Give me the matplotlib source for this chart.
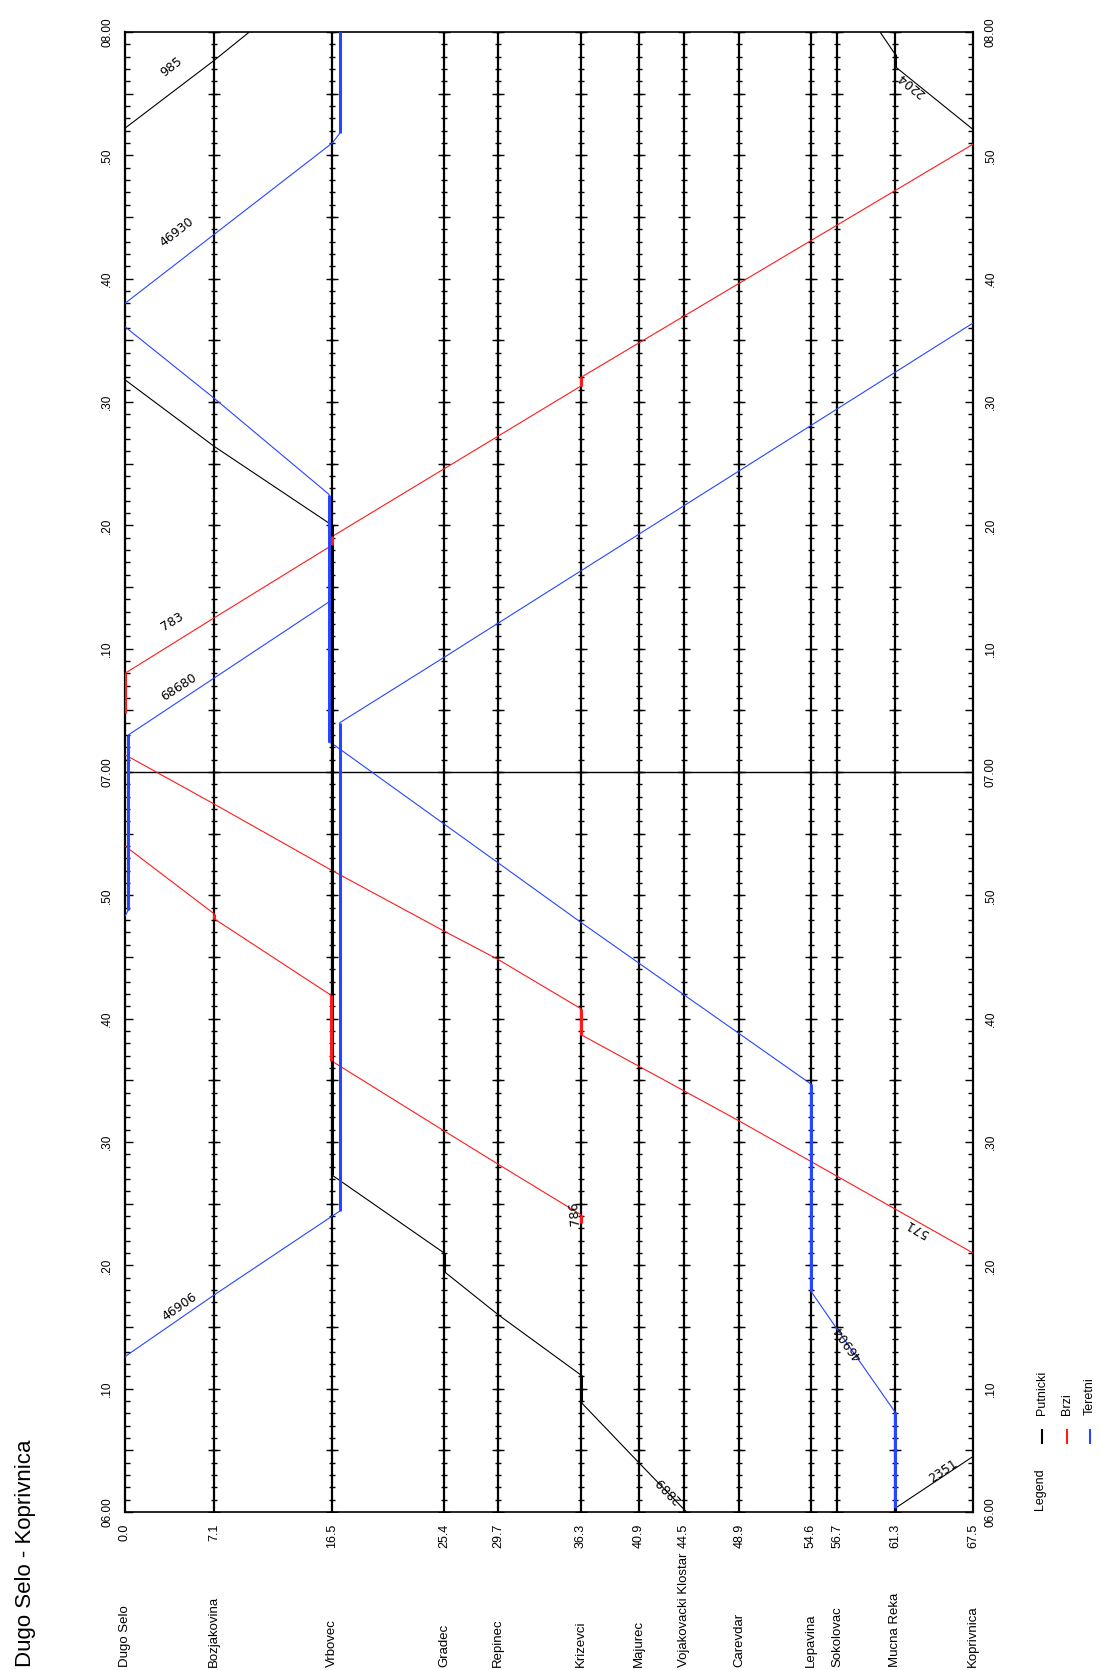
import matplotlib
matplotlib.use('Agg')
import matplotlib.pyplot as plt
from matplotlib.lines import Line2D
from matplotlib.transforms import blended_transform_factory


# stations along the line (km from Dugo Selo)
stations = ['Dugo Selo', 'Bozjakovina', 'Vrbovec', 'Gradec', 'Repinec', 'Krizevci', 'Majurec',
            'Vojakovacki Klostar', 'Carevdar', 'Lepavina', 'Sokolovac', 'Mucna Reka', 'Koprivnica']
station_km = [0.0, 7.1, 16.5, 25.4, 29.7, 36.3, 40.9, 44.5, 48.9, 54.6, 56.7, 61.3, 67.5]
km_labels = ['0.0', '7.1', '16.5', '25.4', '29.7', '36.3', '40.9', '44.5', '48.9', '54.6', '56.7', '61.3', '67.5']

# time axis, minutes after 06:00
time_ticks = [0, 10, 20, 30, 40, 50, 60, 70, 80, 90, 100, 110, 120]
time_labels = ['06.00', '.10', '.20', '.30', '.40', '.50', '07.00', '.10', '.20', '.30', '.40', '.50', '08.00']

# Putnicki (black)
p2889_km = [44.7, 40.9, 36.3, 36.3, 29.7, 25.4, 25.4, 16.5, 16.5, 7.1, 0.0]
p2889_min = [0.0, 4.0, 8.9, 11.1, 16.0, 19.5, 21.0, 27.3, 80.0, 86.4, 91.8]
p985_km = [0.0, 7.1, 9.9]
p985_min = [112.2, 117.7, 120.0]
p2351_km = [61.3, 61.3, 67.5]
p2351_min = [0.0, 0.3, 4.5]
p2204_km = [67.5, 61.3, 61.3, 60.1]
p2204_min = [112.1, 117.2, 118.2, 120.0]

# Brzi (red)
b783_km = [0.0, 0.0, 7.1, 16.5, 16.5, 36.3, 36.3, 67.5]
b783_min = [64.8, 68.0, 72.5, 78.4, 79.1, 91.3, 92.0, 110.9]
b571_km = [67.5, 48.9, 36.3, 36.3, 29.7, 25.4, 16.5, 7.1, 0.0]
b571_min = [21.0, 31.7, 38.7, 40.8, 44.8, 47.1, 52.0, 57.4, 61.4]
b786_km = [36.3, 36.3, 29.7, 25.4, 16.4, 16.4, 7.1, 7.1, 0.0]
b786_min = [23.4, 24.1, 28.2, 30.9, 36.6, 41.9, 48.1, 48.5, 54.0]

# Teretni (blue)
t46906_km = [0.0, 7.1, 16.5, 17.1, 17.1, 25.4, 67.5]
t46906_min = [12.6, 17.6, 24.0, 24.4, 64.0, 69.3, 96.4]
t46904_km = [61.3, 61.3, 56.7, 54.6, 54.6, 36.3, 16.5, 16.25, 16.25, 7.1, 0.0]
t46904_min = [0.0, 8.1, 14.8, 17.9, 34.7, 47.8, 62.3, 62.4, 82.5, 90.3, 96.1]
t68680_km = [0.0, 0.26, 0.26, 16.25]
t68680_min = [48.3, 48.8, 63.0, 73.8]
t46930_km = [0.0, 16.5, 17.1, 17.1]
t46930_min = [98.0, 111.0, 111.8, 120.0]

NARROW = ['Liberation Sans Narrow', 'Liberation Sans', 'DejaVu Sans']
BLACK, RED, BLUE = '#000000', '#ff1a1a', '#2646ff'


def draw_train(ax, km, mins, color, z):
    ax.plot(km, mins, color=color, lw=0.8, zorder=4, solid_capstyle='butt')
    # standing at a station -> thicker segment
    for i in range(len(km) - 1):
        if km[i] == km[i + 1]:
            ax.plot(km[i:i + 2], mins[i:i + 2], color=color, lw=2.2, zorder=z, solid_capstyle='butt')


def main():
    fig = plt.figure(figsize=(11, 16.7), dpi=100)
    ax = fig.add_axes([125 / 1100, 158 / 1670, 848 / 1100, 1480 / 1670])
    ax.set_xlim(0, 67.5)
    ax.set_ylim(0, 120)

    minutes = list(range(0, 121))
    five = list(range(0, 121, 5))

    # station lines with minute marks
    for km in station_km[1:-1]:
        ax.axvline(km, color='black', lw=1.6, zorder=2)
        ax.plot([km] * len(minutes), minutes, ls='none', marker='_', ms=4.5, mew=1.0, color='black', zorder=2)
        ax.plot([km] * len(five), five, ls='none', marker='_', ms=8.0, mew=1.0, color='black', zorder=2)

    ax.axhline(60, color='black', lw=1.0, zorder=3)

    # trains
    draw_train(ax, t46906_km, t46906_min, BLUE, 5)
    draw_train(ax, t46904_km, t46904_min, BLUE, 5)
    draw_train(ax, t68680_km, t68680_min, BLUE, 5)
    draw_train(ax, t46930_km, t46930_min, BLUE, 5)
    draw_train(ax, b783_km, b783_min, RED, 6)
    draw_train(ax, b571_km, b571_min, RED, 6)
    draw_train(ax, b786_km, b786_min, RED, 6)
    draw_train(ax, p2889_km, p2889_min, BLACK, 5.5)
    draw_train(ax, p985_km, p985_min, BLACK, 5.5)
    draw_train(ax, p2351_km, p2351_min, BLACK, 5.5)
    draw_train(ax, p2204_km, p2204_min, BLACK, 5.5)

    # train numbers (km, minute, rotation)
    train_labels = [
        ('46906', 4.38, 16.6, 35),
        ('783', 3.8, 72.2, 32),
        ('68680', 4.32, 66.9, 33),
        ('46930', 4.12, 103.8, 38),
        ('985', 3.72, 117.2, 38),
        ('2351', 65.1, 3.3, 34),
        ('2889', 43.3, 1.8, 134),
        ('786', 35.8, 24.2, 95),
        ('571', 63.0, 23.0, 150),
        ('46904', 57.6, 13.7, 125),
        ('2204', 62.6, 115.7, 141),
    ]
    for txt, km, mn, rot in train_labels:
        ax.text(km, mn, txt, rotation=rot, rotation_mode='anchor', ha='center', va='center',
                fontsize=9, family='DejaVu Sans', zorder=7)

    # axes frame
    for side in ['left', 'right']:
        ax.spines[side].set_linewidth(1.6)
    for side in ['top', 'bottom']:
        ax.spines[side].set_linewidth(1.2)

    ax.set_xticks([])
    ax.set_yticks(five)
    ax.set_yticklabels([time_labels[time_ticks.index(m)] if m in time_ticks else '' for m in five])
    ax.set_yticks(minutes, minor=True)
    ax.tick_params(axis='y', which='both', direction='in', left=True, right=True,
                   labelleft=True, labelright=True, width=1.0, pad=8.6, labelsize=8.5)
    ax.tick_params(axis='y', which='major', length=6)
    ax.tick_params(axis='y', which='minor', length=3.8)
    for t in ax.yaxis.get_major_ticks():
        for lbl in (t.label1, t.label2):
            lbl.set_rotation(90)
            lbl.set_va('center')
            lbl.set_family(NARROW)

    # km and station names under the chart
    km_trans = ax.get_xaxis_transform()
    name_trans = blended_transform_factory(ax.transData, fig.transFigure)
    for km, kml, name in zip(station_km, km_labels, stations):
        ax.text(km, -12 / 1480, kml, transform=km_trans, rotation=90, ha='center', va='top',
                fontsize=9, family=NARROW, clip_on=False)
        ax.text(km, 3 / 1670, name, transform=name_trans, rotation=90, ha='center', va='bottom',
                fontsize=9.5, family=NARROW, clip_on=False)

    fig.text(26 / 1100, 3 / 1670, 'Dugo Selo - Koprivnica', rotation=90, ha='center', va='bottom',
             fontsize=16, family=['Liberation Sans', 'DejaVu Sans'])

    # legend
    fig.text(1040 / 1100, 160 / 1670, 'Legend', rotation=90, ha='center', va='bottom',
             fontsize=9, family=NARROW)
    for x, col, name in [(1042, BLACK, 'Putnicki'), (1067, RED, 'Brzi'), (1090, BLUE, 'Teretni')]:
        fig.add_artist(Line2D([x / 1100, x / 1100], [227 / 1670, 240 / 1670], color=col, lw=1.5,
                              transform=fig.transFigure))
        fig.text(x / 1100, 255 / 1670, name, rotation=90, ha='center', va='bottom',
                 fontsize=9, family=NARROW)

    fig.savefig('out.png', dpi=100)


main()
